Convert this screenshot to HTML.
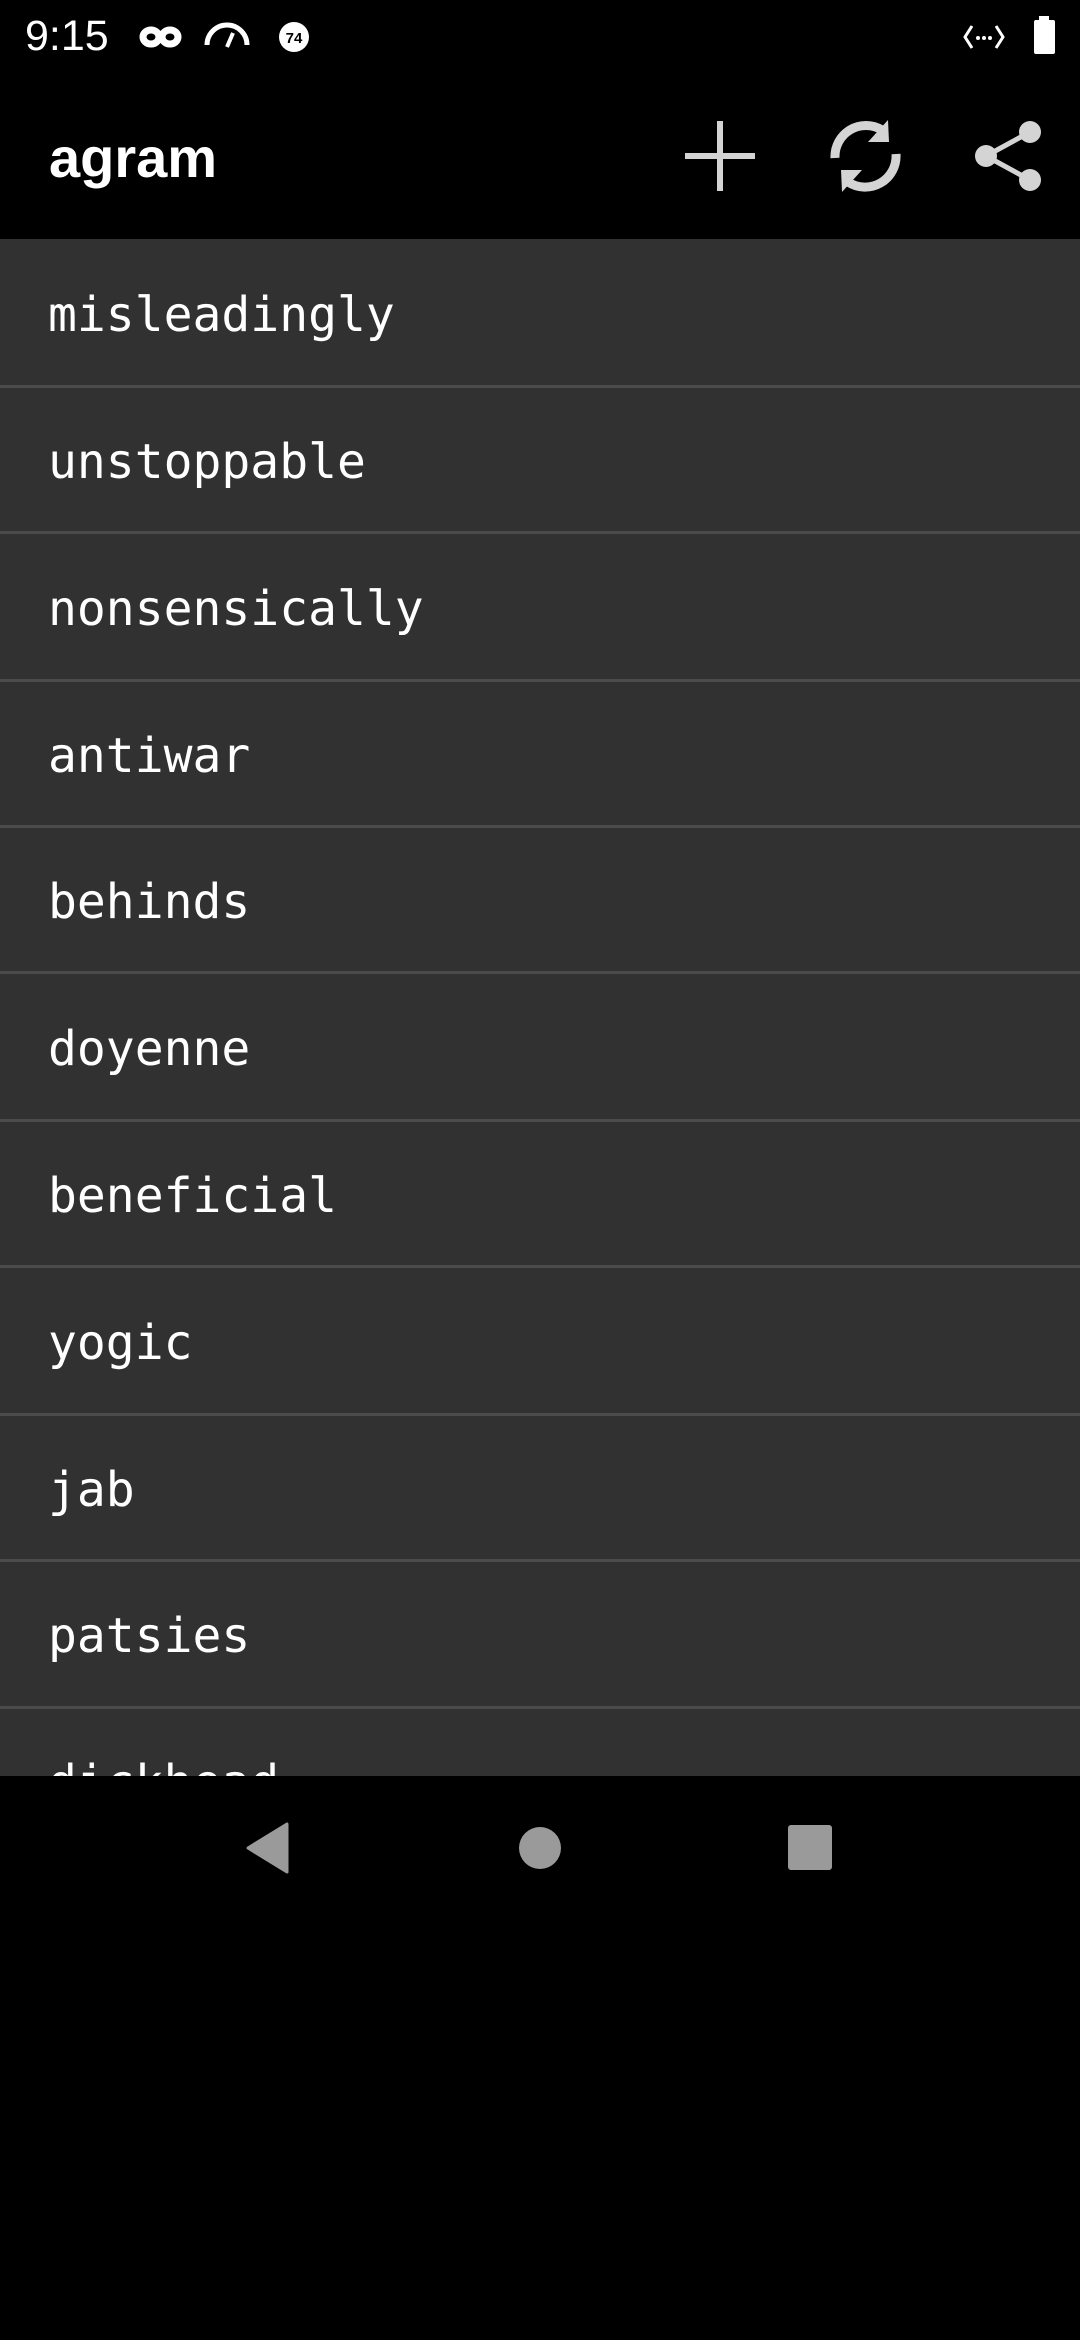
<!DOCTYPE html>
<html><head><meta charset="utf-8"><style>
html,body{margin:0;padding:0;background:#000;width:1080px;height:2340px;overflow:hidden}
body{position:relative;font-family:"Liberation Sans",sans-serif}
.abs{position:absolute}
.list{position:absolute;left:0;top:239px;width:1080px;height:1537px;background:#313131;overflow:hidden}
.sep{position:absolute;left:0;width:1080px;height:3px;background:#4b4b4b}
.w{position:absolute;left:48px;font-family:"DejaVu Sans Mono","Liberation Mono",monospace;font-size:48px;color:#fff;line-height:1}
</style></head><body>
<div class="abs" style="left:25px;top:12px;color:#fff;font-size:43px;">9:15</div>
<svg class="abs" style="left:0;top:0" width="1080" height="70">
 <g fill="none" stroke="#fff" stroke-width="7">
  <ellipse cx="151" cy="37" rx="8" ry="7"/><ellipse cx="170" cy="37" rx="8" ry="7"/>
 </g>
 <path d="M207 45 A20 20 0 0 1 247 45" fill="none" stroke="#fff" stroke-width="5"/>
 <line x1="227" y1="47" x2="233" y2="33" stroke="#fff" stroke-width="4"/>
 <circle cx="294" cy="37" r="15" fill="#fff"/>
 <text x="294" y="43" font-size="15" text-anchor="middle" font-family="Liberation Sans" font-weight="bold" fill="#000">74</text>
 <path d="M972 26 L965 37 L972 48 M996 26 L1003 37 L996 48" fill="none" stroke="#fff" stroke-width="3"/>
 <circle cx="978" cy="38" r="2" fill="#fff"/><circle cx="984" cy="38" r="2" fill="#fff"/><circle cx="990" cy="38" r="2" fill="#fff"/>
 <rect x="1039" y="16" width="10" height="5" fill="#fff"/>
 <rect x="1034" y="20" width="21" height="34" rx="2" fill="#fff"/>
</svg>
<div class="abs" style="left:49px;top:130px;color:#fff;font-size:56px;font-weight:bold;line-height:1">agram</div>
<svg class="abs" style="left:0;top:100px" width="1080" height="120">
 <g stroke="#d4d4d4" stroke-width="6"><line x1="720" y1="21" x2="720" y2="91"/><line x1="685" y1="56" x2="755" y2="56"/></g>
 <g fill="none" stroke="#d4d4d4" stroke-width="9">
  <path d="M835 58 A31 31 0 0 1 882 30"/>
  <path d="M896 54 A31 31 0 0 1 848 82"/>
 </g>
 <polygon points="888,20 889,42 868,42" fill="#d4d4d4"/>
 <polygon points="842,92 841,70 862,70" fill="#d4d4d4"/>
 <g stroke="#d4d4d4" stroke-width="5"><line x1="986" y1="56" x2="1030" y2="32"/><line x1="986" y1="56" x2="1030" y2="80"/></g>
 <g fill="#d4d4d4"><circle cx="1030" cy="32" r="11"/><circle cx="986" cy="56" r="11"/><circle cx="1030" cy="80" r="11"/></g>
</svg>
<div class="list">
 <div class="sep" style="top:146px"></div>
 <div class="sep" style="top:292px"></div>
 <div class="sep" style="top:440px"></div>
 <div class="sep" style="top:586px"></div>
 <div class="sep" style="top:732px"></div>
 <div class="sep" style="top:880px"></div>
 <div class="sep" style="top:1026px"></div>
 <div class="sep" style="top:1174px"></div>
 <div class="sep" style="top:1320px"></div>
 <div class="sep" style="top:1467px"></div>
 <div class="w" style="top:52px">misleadingly</div>
 <div class="w" style="top:199px">unstoppable</div>
 <div class="w" style="top:346px">nonsensically</div>
 <div class="w" style="top:493px">antiwar</div>
 <div class="w" style="top:639px">behinds</div>
 <div class="w" style="top:786px">doyenne</div>
 <div class="w" style="top:933px">beneficial</div>
 <div class="w" style="top:1080px">yogic</div>
 <div class="w" style="top:1227px">jab</div>
 <div class="w" style="top:1373px">patsies</div>
 <div class="w" style="top:1520px">dickhead</div>
</div>
<svg class="abs" style="left:0;top:1776px" width="1080" height="140">
 <polygon points="287,48 287,96 248,72" fill="#9a9a9a" stroke="#9a9a9a" stroke-width="3" stroke-linejoin="round"/>
 <circle cx="540" cy="72" r="21" fill="#9a9a9a"/>
 <rect x="788" y="49" width="44" height="45" rx="3" fill="#9a9a9a"/>
</svg>
</body></html>
